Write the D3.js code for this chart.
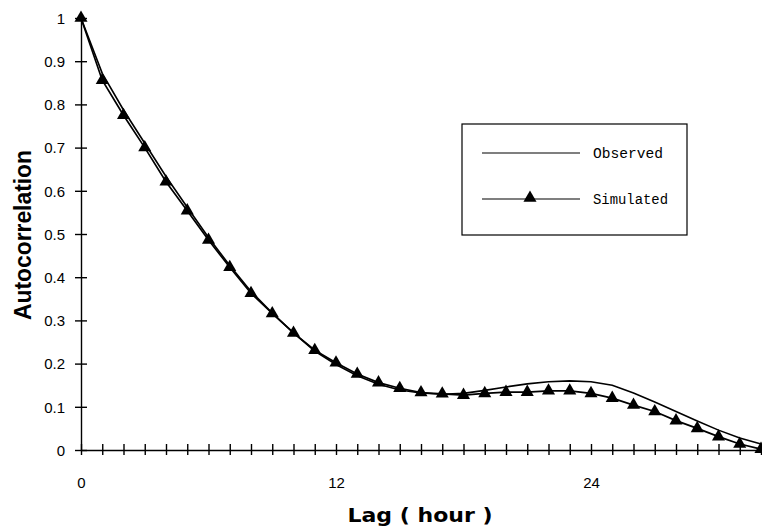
<!DOCTYPE html>
<html>
<head>
<meta charset="utf-8">
<script src="https://cdn.jsdelivr.net/npm/d3@7"></script>
<style>
  body { margin: 0; background: #fff; }
  svg { display: block; }
  .axis path, .axis line { stroke: #000; stroke-width: 1.4px; }
  .axis text { font-family: "Liberation Sans Narrow", "Arial Narrow", sans-serif; font-size: 15px; fill: #000; }
</style>
</head>
<body>
<script>
// lags in hours
var lags = d3.range(0, 33);

// observed autocorrelation (plain line)
var observed = [1.0, 0.872, 0.787, 0.710, 0.633, 0.562, 0.492, 0.427, 0.367, 0.317,
                0.271, 0.229, 0.198, 0.172, 0.152, 0.139, 0.132, 0.129, 0.131, 0.138,
                0.146, 0.153, 0.158, 0.160, 0.158, 0.150, 0.132, 0.111, 0.089, 0.067,
                0.046, 0.028, 0.014];

// simulated autocorrelation (line with triangles)
var simulated = [1.0, 0.856, 0.775, 0.700, 0.621, 0.554, 0.486, 0.423, 0.363, 0.316,
                 0.271, 0.231, 0.202, 0.176, 0.156, 0.143, 0.133, 0.130, 0.127, 0.131,
                 0.134, 0.134, 0.137, 0.137, 0.131, 0.120, 0.104, 0.089, 0.068, 0.050,
                 0.031, 0.014, 0.002];

var yTicks = [0, 0.1, 0.2, 0.3, 0.4, 0.5, 0.6, 0.7, 0.8, 0.9, 1];
var yTickLabels = ["0", "0.1", "0.2", "0.3", "0.4", "0.5", "0.6", "0.7", "0.8", "0.9", "1"];
var xLabelled = [0, 12, 24];
var seriesNames = ["Observed", "Simulated"];

var width = 762, height = 526;

var svg = d3.select("body").append("svg")
  .attr("width", width)
  .attr("height", height);

var x = d3.scaleLinear().domain([0, 32]).range([81, 761]);
var y = d3.scaleLinear().domain([0, 1]).range([450, 18]);

// y axis, ticks crossing the line
var yAxis = svg.append("g")
  .attr("class", "axis")
  .attr("transform", "translate(" + x(0) + ",0)")
  .call(d3.axisLeft(y)
    .tickValues(yTicks)
    .tickSizeOuter(0)
    .tickSizeInner(6)
    .tickPadding(10)
    .tickFormat(function(d, i) { return yTickLabels[i]; }));
yAxis.selectAll(".tick line").attr("x1", 6).attr("x2", -6);
yAxis.selectAll(".tick text").attr("dy", "0.35em");

// x axis, one tick per hour
var xAxis = svg.append("g")
  .attr("class", "axis")
  .attr("transform", "translate(0," + y(0) + ")")
  .call(d3.axisBottom(x)
    .tickValues(lags)
    .tickSizeOuter(0)
    .tickSizeInner(5)
    .tickPadding(22)
    .tickFormat(function(d) { return xLabelled.indexOf(d) >= 0 ? d : ""; }));
xAxis.selectAll(".tick line").attr("y1", -6).attr("y2", 5);

// axis titles
svg.append("text")
  .attr("transform", "translate(31,235) rotate(-90)")
  .attr("text-anchor", "middle")
  .attr("textLength", 170)
  .attr("lengthAdjust", "spacingAndGlyphs")
  .style("font-family", "Liberation Sans, Arial, sans-serif")
  .style("font-weight", "bold")
  .style("font-size", "24px")
  .text("Autocorrelation");

svg.append("text")
  .attr("x", 420)
  .attr("y", 522)
  .attr("text-anchor", "middle")
  .attr("textLength", 145)
  .attr("lengthAdjust", "spacingAndGlyphs")
  .style("font-family", "DejaVu Sans, Verdana, sans-serif")
  .style("font-weight", "bold")
  .style("font-size", "19px")
  .text("Lag ( hour )");

// lines
var line = function(vals) {
  return d3.line()
    .x(function(d, i) { return x(lags[i]); })
    .y(function(d) { return y(d); })(vals);
};

svg.append("path")
  .attr("d", line(observed))
  .attr("fill", "none")
  .attr("stroke", "#000")
  .attr("stroke-width", 1.6);

svg.append("path")
  .attr("d", line(simulated))
  .attr("fill", "none")
  .attr("stroke", "#000")
  .attr("stroke-width", 1.7);

var tri = d3.symbol().type(d3.symbolTriangle).size(74);

svg.append("g").selectAll("path")
  .data(simulated)
  .enter().append("path")
  .attr("d", tri)
  .attr("transform", function(d, i) { return "translate(" + x(lags[i]) + "," + y(d) + ")"; })
  .attr("fill", "#000");

// legend
var legend = svg.append("g");
legend.append("rect")
  .attr("x", 462).attr("y", 124)
  .attr("width", 225).attr("height", 111)
  .attr("fill", "#fff")
  .attr("stroke", "#000")
  .attr("stroke-width", 1.2);

legend.append("line")
  .attr("x1", 482).attr("x2", 580)
  .attr("y1", 153).attr("y2", 153)
  .attr("stroke", "#000").attr("stroke-width", 1.2);
legend.append("line")
  .attr("x1", 482).attr("x2", 580)
  .attr("y1", 199).attr("y2", 199)
  .attr("stroke", "#000").attr("stroke-width", 1.2);
legend.append("path")
  .attr("d", tri)
  .attr("transform", "translate(530,198)")
  .attr("fill", "#000");

legend.selectAll("text.lab")
  .data(seriesNames)
  .enter().append("text")
  .attr("class", "lab")
  .attr("x", 593)
  .attr("y", function(d, i) { return i === 0 ? 158 : 204; })
  .attr("textLength", function(d, i) { return i === 0 ? 70 : 75; })
  .attr("lengthAdjust", "spacingAndGlyphs")
  .style("font-family", "Liberation Mono, Courier New, monospace")
  .style("font-size", "14px")
  .text(function(d) { return d; });
</script>
</body>
</html>
